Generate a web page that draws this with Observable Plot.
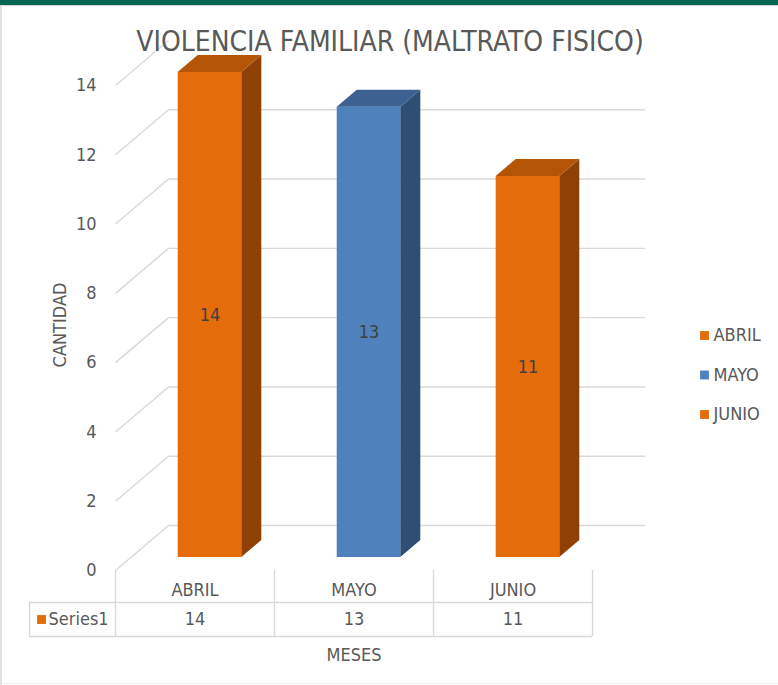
<!DOCTYPE html>
<html>
<head>
<meta charset="utf-8">
<script src="https://cdn.jsdelivr.net/npm/d3@7"></script>
<script src="https://cdn.jsdelivr.net/npm/@observablehq/plot@0.6"></script>
<style>
  html, body { margin: 0; padding: 0; background: #ffffff; }
  #wrap { position: relative; width: 778px; height: 685px; overflow: hidden; }
  #topbar { position: absolute; left: 0; top: 0; width: 778px; height: 5px; background: #00664f; }
  #topline { position: absolute; left: 0; top: 5px; width: 778px; height: 1px; background: #d6d6d6; }
  #leftline { position: absolute; left: 0; top: 6px; width: 2px; height: 679px; background: #e0e0e0; }
  #bottomline { position: absolute; left: 0; top: 683px; width: 778px; height: 1px; background: #eeeeee; }
  #chart { position: absolute; left: 0; top: 0; }
</style>
</head>
<body>
<div id="wrap">
  <div id="chart"></div>
  <div id="topbar"></div>
  <div id="topline"></div>
  <div id="leftline"></div>
  <div id="bottomline"></div>
</div>
<script>
// ---- data ----
const title = "VIOLENCIA FAMILIAR (MALTRATO FISICO)";
const categories = ["ABRIL", "MAYO", "JUNIO"];
const values = [14, 13, 11];
const seriesName = "Series1";
const yTicks = [0, 2, 4, 6, 8, 10, 12, 14];
const yLabel = "CANTIDAD";
const xLabel = "MESES";

// ---- styles ----
const frontColors = ["#e46c0a", "#4f81bd", "#e46c0a"];
const sideColors  = ["#8e4005", "#2f4e74", "#8e4005"];
const topColors   = ["#b35407", "#3d6291", "#b35407"];
const textColor = "#595959";
const gridColor = "#d9d9d9";
const FONT = "'Liberation Sans Narrow', 'DejaVu Sans Condensed', 'Arial Narrow', sans-serif";

// 3D depth offsets (in scale units: x = category units, y = value units)
const FRONT = {x: -15 / 159, y: -13 / 34.64};
const BACK  = {x: 38 / 159,  y: 32 / 34.64};
const DEPTH = {x: 20 / 159,  y: 17 / 34.64};
const BAR_L = 0.3, BAR_R = 0.7;

// table rows (value units, below the floor)
const ROW_CAT = -0.95, ROW_TOP = -1.30, ROW_VAL = -1.79, ROW_BOT = -2.28, ROW_TITLE = -2.83;
const TABLE_LEFT = -0.635;

const bars = categories.map((c, i) => ({cat: c, i, v: values[i]}));

const marks = [];
// back wall gridlines
marks.push(Plot.ruleY(yTicks.filter(t => t < 14), {
  y: t => t + BACK.y, x1: () => BACK.x, x2: () => 3 + BACK.x, stroke: gridColor, strokeWidth: 1.4
}));
// side-wall diagonals
marks.push(Plot.link(yTicks, {
  x1: () => FRONT.x, y1: t => t + FRONT.y, x2: () => BACK.x, y2: t => t + BACK.y,
  stroke: gridColor, strokeWidth: 1.4
}));
// bars (front, side, top faces)
bars.forEach(b => {
  marks.push(Plot.rect([b], {
    x1: d => d.i + BAR_L, x2: d => d.i + BAR_R, y1: () => 0, y2: d => d.v, fill: frontColors[b.i]
  }));
  marks.push(Plot.area([
    {x: b.i + BAR_R, y1: 0, y2: b.v},
    {x: b.i + BAR_R + DEPTH.x, y1: DEPTH.y, y2: b.v + DEPTH.y}
  ], {x1: "x", y1: "y1", y2: "y2", fill: sideColors[b.i]}));
  marks.push(Plot.area([
    {y: b.v, xa: b.i + BAR_L, xb: b.i + BAR_R},
    {y: b.v + DEPTH.y, xa: b.i + BAR_L + DEPTH.x, xb: b.i + BAR_R + DEPTH.x}
  ], {y1: "y", x1: "xa", x2: "xb", fill: topColors[b.i]}));
});
// value labels inside bars
marks.push(Plot.text(bars, {
  x: d => d.i + 0.5, y: d => d.v / 2, text: d => String(d.v),
  fill: "#404040", fontSize: 18
}));
// y tick labels
marks.push(Plot.text(yTicks, {
  x: () => FRONT.x, y: t => t + FRONT.y, text: t => String(t), dx: -19,
  textAnchor: "end", fill: textColor, fontSize: 18
}));
// y axis title
marks.push(Plot.text([yLabel], {
  frameAnchor: "left", rotate: -90, dx: -70, dy: 10, textAnchor: "middle", lineAnchor: "middle",
  fill: textColor, fontSize: 18
}));
// title
marks.push(Plot.text([title], {
  frameAnchor: "top", dx: 21, dy: -30, lineAnchor: "middle", fill: textColor, fontSize: 28
}));
// data table lines
marks.push(Plot.ruleX([0, 1, 2, 3], {
  x: d => d + FRONT.x, y1: () => FRONT.y, y2: () => ROW_BOT, stroke: gridColor, strokeWidth: 1.4
}));
marks.push(Plot.ruleX([TABLE_LEFT], {
  x: d => d, y1: () => ROW_TOP, y2: () => ROW_BOT, stroke: gridColor, strokeWidth: 1.4
}));
marks.push(Plot.ruleY([ROW_TOP, ROW_BOT], {
  y: d => d, x1: () => TABLE_LEFT, x2: () => 3 + FRONT.x, stroke: gridColor, strokeWidth: 1.4
}));
// table texts
marks.push(Plot.text(bars, {
  x: d => d.i + 0.5 + FRONT.x, y: () => ROW_CAT, text: "cat", fill: textColor, fontSize: 18
}));
marks.push(Plot.text(bars, {
  x: d => d.i + 0.5 + FRONT.x, y: () => ROW_VAL, text: d => String(d.v), fill: textColor, fontSize: 18
}));
marks.push(Plot.dot([seriesName], {
  x: () => TABLE_LEFT, y: () => ROW_VAL, dx: 12, symbol: "square", r: 5, fill: frontColors[0], stroke: "none"
}));
marks.push(Plot.text([seriesName], {
  x: () => TABLE_LEFT, y: () => ROW_VAL, dx: 19, textAnchor: "start", fill: textColor, fontSize: 18
}));
marks.push(Plot.text([xLabel], {
  x: () => 1.5 + FRONT.x, y: () => ROW_TITLE, fill: textColor, fontSize: 18
}));
// legend
categories.forEach((c, i) => {
  marks.push(Plot.dot([c], {
    frameAnchor: "top-right", dx: 97, dy: 263 + i * 39.5, symbol: "square", r: 5,
    fill: frontColors[i], stroke: "none"
  }));
  marks.push(Plot.text([c], {
    frameAnchor: "top-right", dx: 106, dy: 263 + i * 39.5, textAnchor: "start", lineAnchor: "middle",
    fill: textColor, fontSize: 18
  }));
});

const chart = Plot.plot({
  width: 778,
  height: 685,
  marginLeft: 130,
  marginRight: 171,
  marginTop: 72,
  marginBottom: 128,
  x: {type: "linear", domain: [0, 3], axis: null},
  y: {type: "linear", domain: [0, 14], axis: null},
  style: {fontFamily: FONT, background: "transparent", overflow: "visible"},
  marks
});
document.getElementById("chart").appendChild(chart);
</script>
</body>
</html>
